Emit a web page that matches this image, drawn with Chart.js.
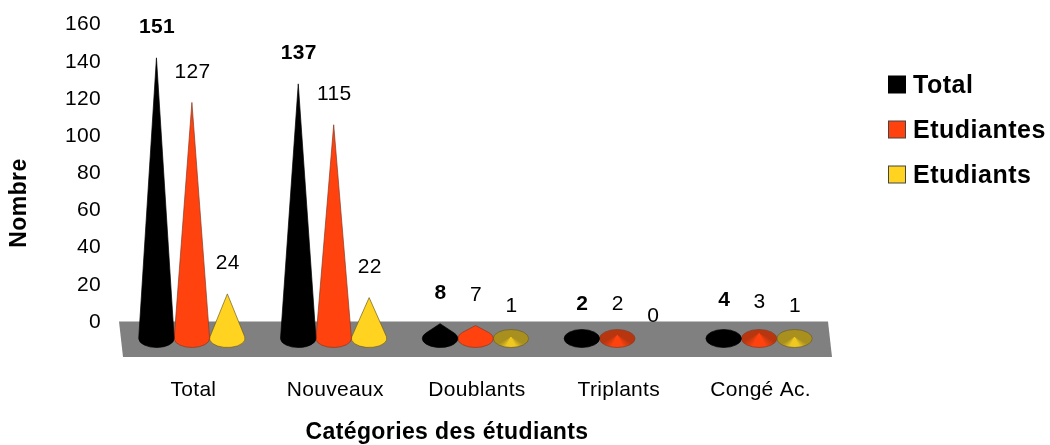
<!DOCTYPE html>
<html>
<head>
<meta charset="utf-8">
<style>
  html, body { margin:0; padding:0; background:#fff; }
  #wrap { width:1050px; height:445px; }
</style>
<script src="https://cdn.jsdelivr.net/npm/chart.js@4"></script>
</head>
<body>
<div id="wrap"><canvas id="chart" width="1050" height="445"></canvas></div>
<script>
const CATEGORIES = ["Total", "Nouveaux", "Doublants", "Triplants", "Congé Ac."];
const TOTAL      = [151, 137, 8, 2, 4];
const ETUDIANTES = [127, 115, 7, 2, 3];
const ETUDIANTS  = [24, 22, 1, 0, 1];

const FONT = "'Liberation Sans', Arial, sans-serif";
const DEPTH = 16.5;   // cones stand on the floor, below the 0 tick

// ── Cone shape ────────────────────────────────────────────────────────────────
function drawCone(ctx, cx, cy, rx, ry, h, s) {
  const apexY = cy - h;
  ctx.beginPath();
  if (h > ry) {
    const t = Math.asin(-ry / h);
    ctx.moveTo(cx, apexY);
    ctx.ellipse(cx, cy, rx, ry, 0, t, Math.PI - t, false);
    ctx.closePath();
    ctx.fillStyle = s.color;
  } else {
    // seen from above: bright wedge at the front, shaded back
    ctx.ellipse(cx, cy, rx, ry, 0, 0, Math.PI * 2);
    const g = ctx.createConicGradient(Math.PI / 2, cx, apexY);
    g.addColorStop(0, s.bright);
    g.addColorStop(0.07, s.bright);
    g.addColorStop(0.17, s.dark);
    g.addColorStop(0.83, s.dark);
    g.addColorStop(0.93, s.bright);
    g.addColorStop(1, s.bright);
    ctx.fillStyle = g;
  }
  ctx.fill();
  ctx.lineWidth = 0.7;
  ctx.lineJoin = "miter";
  ctx.miterLimit = 12;   // keep the thin tips visible
  ctx.strokeStyle = s.edge;
  ctx.stroke();
}

const SHADES = [
  { color:"#000000", bright:"#000000", dark:"#000000", edge:"#000000" },
  { color:"#ff420e", bright:"#ff420e", dark:"#b8360f", edge:"#8a3a22" },
  { color:"#ffd320", bright:"#efc820", dark:"#a88f1e", edge:"#6e5f22" }
];

const floorPlugin = {
  id: "floor",
  beforeDraw(chart) { chart.ctx.letterSpacing = "0.3px"; },
  beforeDatasetsDraw(chart) {
    const { ctx, chartArea:a, scales:{ y } } = chart;
    const top = y.getPixelForValue(0) - 0.5;
    ctx.save();
    ctx.fillStyle = "#808080";
    ctx.beginPath();
    ctx.moveTo(a.left - 2, top);
    ctx.lineTo(a.right - 2, top);
    ctx.lineTo(a.right + 2, top + 35.5);
    ctx.lineTo(a.left + 2, top + 35.5);
    ctx.closePath();
    ctx.fill();
    ctx.restore();
  }
};

const conePlugin = {
  id: "cones",
  beforeDatasetDraw(chart, args) {
    const ctx = chart.ctx, s = SHADES[args.index];
    ctx.save();
    args.meta.data.forEach((bar) => {
      const h = bar.base - bar.y;
      if (h <= 0) return;
      drawCone(ctx, bar.x, bar.base + DEPTH, bar.width / 2, 9, h, s);
    });
    ctx.restore();
    return false;   // cone replaces the flat bar
  },
  afterDatasetsDraw(chart) {
    const ctx = chart.ctx;
    ctx.save();
    ctx.fillStyle = "#000";
    ctx.textAlign = "center";
    ctx.textBaseline = "middle";
    chart.data.datasets.forEach((ds, di) => {
      ctx.font = (di === 0 ? "bold " : "") + "21px " + FONT;
      chart.getDatasetMeta(di).data.forEach((bar, i) => {
        const v = ds.data[i];
        ctx.fillText(String(v), bar.x + 0.5, bar.y + DEPTH - (v === 0 ? 22 : 30.5));
      });
    });
    ctx.restore();
  }
};

const titlePlugin = {
  id: "axisTitles",
  afterDraw(chart) {
    const ctx = chart.ctx;
    ctx.save();
    ctx.fillStyle = "#000";
    ctx.textAlign = "center";
    ctx.textBaseline = "middle";
    ctx.font = "bold 23px " + FONT;
    ctx.letterSpacing = "0.4px";
    ctx.fillText("Catégories des étudiants", 447, 433);
    ctx.translate(20, 203);
    ctx.rotate(-Math.PI / 2);
    ctx.fillText("Nombre", 0, 0);
    ctx.restore();
  }
};

const legendPlugin = {
  id: "sideLegend",
  afterDraw(chart) {
    const ctx = chart.ctx;
    ctx.save();
    ctx.textBaseline = "middle";
    ctx.font = "bold 25px " + FONT;
    ctx.letterSpacing = "0.5px";
    chart.data.datasets.forEach((ds, i) => {
      const y = 85 + i * 45;
      ctx.fillStyle = ds.backgroundColor;
      ctx.fillRect(888.5, y - 9, 17, 17);
      ctx.strokeStyle = i === 0 ? "#000" : "#444";
      ctx.lineWidth = 1;
      ctx.strokeRect(888.5, y - 9, 17, 17);
      ctx.fillStyle = "#000";
      ctx.fillText(ds.label, 913, y + 1);
    });
    ctx.restore();
  }
};

new Chart(document.getElementById("chart"), {
  type: "bar",
  plugins: [floorPlugin, conePlugin, titlePlugin, legendPlugin],
  data: {
    labels: CATEGORIES,
    datasets: [
      { label:"Total",      data:TOTAL,      backgroundColor:"#000000" },
      { label:"Etudiantes", data:ETUDIANTES, backgroundColor:"#ff420e" },
      { label:"Etudiants",  data:ETUDIANTS,  backgroundColor:"#ffd320" }
    ]
  },
  options: {
    responsive:false,
    animation:false,
    categoryPercentage:0.75,
    barPercentage:1,
    layout: { padding:{ left:0, right:220, top:17, bottom:0 } },
    plugins: { legend:{ display:false }, tooltip:{ enabled:false } },
    scales: {
      x: {
        grid:{ display:false }, border:{ display:false },
        afterFit(s) { s.height = 123; },
        ticks:{ color:"#000", maxRotation:0, font:{ family:FONT, size:21 }, padding:48, labelOffset:1.5 }
      },
      y: {
        min:0, max:160,
        grid:{ display:false }, border:{ display:false },
        afterFit(s) { s.width = 121; },
        ticks:{ stepSize:20, color:"#000", font:{ family:FONT, size:21 }, padding:12 }
      }
    }
  }
});
</script>
</body>
</html>
